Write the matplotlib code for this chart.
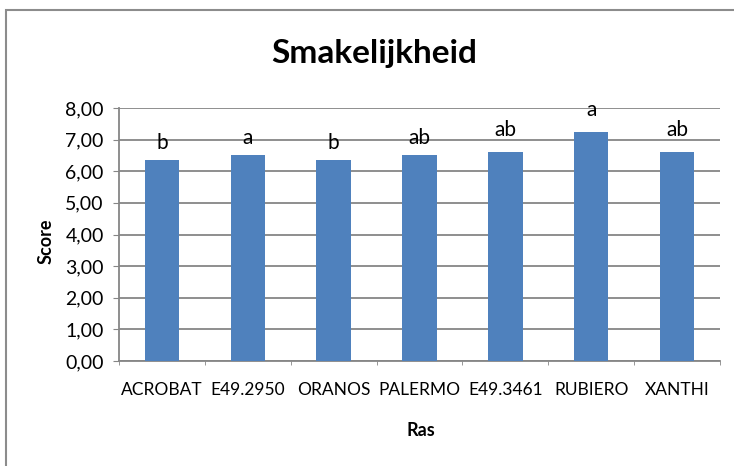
import matplotlib
matplotlib.use("Agg")
import matplotlib.pyplot as plt
import numpy as np
from matplotlib.patches import Rectangle
from matplotlib.ticker import FuncFormatter, FixedLocator

rassen = ["ACROBAT", "E49.2950", "ORANOS", "PALERMO", "E49.3461", "RUBIERO", "XANTHI"]
scores = [6.35, 6.52, 6.35, 6.52, 6.62, 7.24, 6.62]
letters = ["b", "a", "b", "ab", "ab", "a", "ab"]

BAR = "#4F81BD"
GRID = "#868686"

plt.rcParams["font.family"] = ["Lato", "DejaVu Sans"]

fig = plt.figure(figsize=(7.34, 4.66), dpi=100)
ax = fig.add_axes([119 / 734, 1 - 361 / 466, 601 / 734, 253 / 466])

x = np.arange(len(rassen))
ax.bar(x, scores, width=0.4, color=BAR, zorder=3)
# letters sit a bit higher above the taller bars, as in the original sheet
lift = [5, 5, 5, 5, 8.5, 9, 8.5]
for xi, s, lt, dy in zip(x, scores, letters, lift):
    ax.annotate(lt, (xi, s), xytext=(0, dy), textcoords="offset points",
                ha="center", va="bottom", fontsize=15, color="black")

ax.set_xlim(-0.5, len(rassen) - 0.5)
ax.set_ylim(0, 8)
ax.set_yticks(np.arange(0, 9, 1))
ax.yaxis.set_major_formatter(FuncFormatter(lambda v, p: f"{v:.2f}".replace(".", ",")))
ax.yaxis.grid(True, color=GRID, linewidth=1.3, zorder=0)
ax.set_xticks(x)
ax.set_xticklabels(rassen)
ax.xaxis.set_minor_locator(FixedLocator(np.arange(-0.5, len(rassen), 1)))
ax.tick_params(axis="x", which="major", length=0, pad=15, labelsize=12.5)
ax.tick_params(axis="x", which="minor", length=3, color=GRID, direction="out")
ax.tick_params(axis="y", length=4, color=GRID, labelsize=14, pad=7)

for side in ["top", "right"]:
    ax.spines[side].set_visible(False)
for side in ["left", "bottom"]:
    ax.spines[side].set_color(GRID)
    ax.spines[side].set_linewidth(1.3)

ax.set_ylabel("Score", fontsize=13, fontweight="bold")
ax.yaxis.set_label_coords(-73 / 601, (361 - 241) / 253)
ax.set_xlabel("Ras", fontsize=13, fontweight="bold")
ax.xaxis.set_label_coords((421 - 119) / 601, -(430 - 361) / 253)
ax.xaxis.label.set_va("center")
ax.yaxis.label.set_va("center")
fig.text(374.5 / 734, 1 - 53 / 466, "Smakelijkheid", ha="center", va="center",
         fontsize=24, fontweight="bold")

# chart border (Excel-style chart area)
fig.patches.append(Rectangle((6 / 734, -0.1), 1.2, 1 - 10 / 466 + 0.1,
                             transform=fig.transFigure, fill=False,
                             edgecolor="#8c8c8c", linewidth=1.5))

fig.savefig("out.png", dpi=100)
